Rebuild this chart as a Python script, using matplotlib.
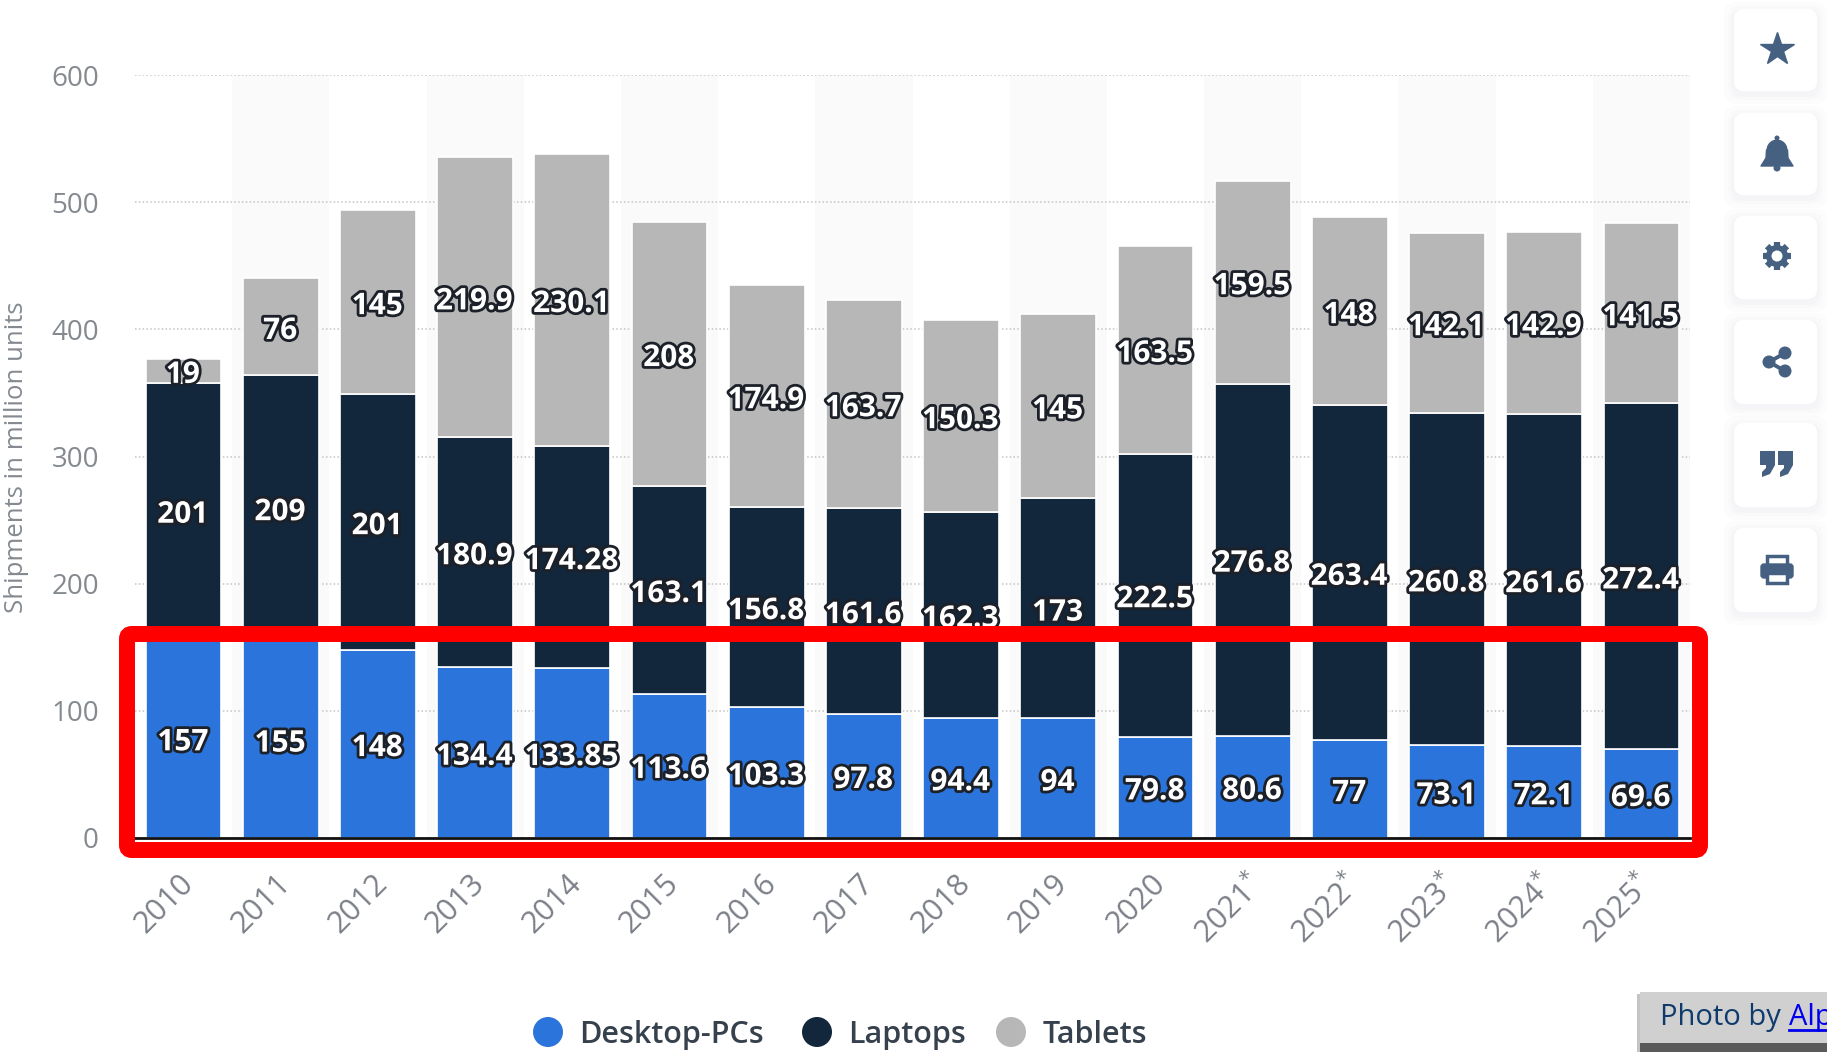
import numpy as np
import matplotlib
matplotlib.use('Agg')
import matplotlib.pyplot as plt
import matplotlib.patheffects as pe
from matplotlib.patches import FancyBboxPatch, Circle, Rectangle, Polygon
from matplotlib.transforms import ScaledTranslation

plt.rcParams['font.family'] = ['Open Sans', 'DejaVu Sans']

years = ['2010', '2011', '2012', '2013', '2014', '2015', '2016', '2017', '2018', '2019', '2020',
         '2021*', '2022*', '2023*', '2024*', '2025*']
desktops = [157, 155, 148, 134.4, 133.85, 113.6, 103.3, 97.8, 94.4, 94, 79.8, 80.6, 77, 73.1, 72.1, 69.6]
laptops = [201, 209, 201, 180.9, 174.28, 163.1, 156.8, 161.6, 162.3, 173, 222.5, 276.8, 263.4, 260.8, 261.6, 272.4]
tablets = [19, 76, 145, 219.9, 230.1, 208, 174.9, 163.7, 150.3, 145, 163.5, 159.5, 148, 142.1, 142.9, 141.5]
yticks = [0, 100, 200, 300, 400, 500, 600]

series = [('Desktop-PCs', desktops, '#2a74dc'), ('Laptops', laptops, '#12263c'), ('Tablets', tablets, '#b7b7b7')]
W, H = 1827, 1052

fig = plt.figure(figsize=(W / 100, H / 100), dpi=100)
ax = fig.add_axes([135 / W, 1 - 838 / H, (1690 - 135) / W, (838 - 75) / H])
ax.set_xlim(-0.5, 15.5)
ax.set_ylim(0, 600)
for side in ['top', 'left', 'right']:
    ax.spines[side].set_visible(False)
ax.spines['bottom'].set_color('#111111')
ax.spines['bottom'].set_linewidth(2)
ax.spines['bottom'].set_zorder(6)

# alternating background bands
for i in range(1, 16, 2):
    ax.axvspan(i - 0.5, i + 0.5, color='#fafafa', lw=0, zorder=0)
ax.set_axisbelow(True)
ax.yaxis.grid(True, linestyle=(0, (1, 1.5)), color='#c4c4c4', linewidth=1.1, zorder=1)

x = list(range(len(years)))
bottom = [0] * len(years)
for name, vals, color in series:
    ax.bar(x, vals, width=0.78, bottom=bottom, color=color, edgecolor='white', linewidth=1.2, zorder=3)
    for i, v in enumerate(vals):
        ax.annotate(f'{v:g}', (i, bottom[i] + v / 2), xytext=(-0.5, -3), textcoords='offset points',
                    ha='center', va='center', color='white', fontsize=21.5, fontweight='bold', zorder=5,
                    path_effects=[pe.withStroke(linewidth=4, foreground='#1c2028')])
    bottom = [b + v for b, v in zip(bottom, vals)]

ax.set_yticks(yticks)
ax.set_xticks(x)
ax.set_xticklabels([y.replace('*', '$^{*}$') for y in years], rotation=45, ha='right', rotation_mode='anchor',
                   fontsize=22, color='#7c8088')
ax.tick_params(axis='x', length=0, pad=22)
for lab in ax.get_xticklabels():
    lab.set_transform(lab.get_transform() + ScaledTranslation(-4 / 72, 0, fig.dpi_scale_trans))
ax.tick_params(axis='y', length=0, pad=26, labelsize=20, labelcolor='#858a90')
ax.set_ylabel('Shipments in million units', fontsize=18.5, color='#858a90')
ax.yaxis.set_label_coords((29 - 135) / (1690 - 135), (838 - 457) / (838 - 75))

# overlay in pixel coordinates: buttons, legend, caption, red frame
ov = fig.add_axes([0, 0, 1, 1], facecolor='none')
ov.set_xlim(0, W)
ov.set_ylim(H, 0)
ov.axis('off')

# red highlight frame
ov.add_patch(FancyBboxPatch((127, 634), 1573, 216, boxstyle='round,pad=0,rounding_size=5', fc='none',
                            ec='#ff0000', lw=11.5, zorder=10))

# legend
for (name, vals, color), cx, tx in zip(series, [548, 817, 1011], [579, 848, 1043]):
    ov.add_patch(Circle((cx, 1032), 15, fc=color, ec='none'))
    ov.text(tx, 1035, name, va='center', ha='left', fontsize=22, fontweight='semibold', color='#37414d')

# side buttons
icon = '#466082'
tops = [9, 113, 216, 320, 423, 528]
bots = [91, 195, 299, 404, 507, 612]
for t, b in zip(tops, bots):
    for grow, a in [(10, 0.010), (6, 0.014), (3, 0.02)]:
        ov.add_patch(FancyBboxPatch((1734 - grow, t - grow + 3), 83 + 2 * grow, b - t + 2 * grow,
                                    boxstyle='round,pad=0,rounding_size=12', fc='#44546a', ec='none', alpha=a))
    ov.add_patch(FancyBboxPatch((1734, t), 83, b - t, boxstyle='round,pad=0,rounding_size=10', fc='white', ec='none'))

cx = 1777
# star
ov.plot([cx], [49], marker='*', ms=25, color=icon, mec=icon)
# bell
ov.add_patch(Circle((cx, 150), 10.5, fc=icon, ec='none'))
ov.add_patch(Circle((cx, 138), 2.5, fc=icon, ec='none'))
ov.add_patch(Polygon([(cx - 16, 166), (cx - 11, 158), (cx - 10.5, 150), (cx + 10.5, 150), (cx + 11, 158),
                      (cx + 16, 166)], fc=icon, ec=icon, lw=1, joinstyle='round'))
ov.add_patch(Circle((cx, 168), 3.5, fc=icon, ec='none'))
# gear
for a in np.arange(0, np.pi, np.pi / 4):
    dx, dy = 14 * np.cos(a), 14 * np.sin(a)
    ov.plot([cx - dx, cx + dx], [256 - dy, 256 + dy], color=icon, lw=4.5, solid_capstyle='butt')
ov.add_patch(Circle((cx, 256), 11, fc=icon, ec='none', zorder=3))
ov.add_patch(Circle((cx, 256), 5.5, fc='white', ec='none', zorder=4))
# share
left, up, down = (cx - 8, 362), (cx + 8, 353), (cx + 8, 371)
for p in [up, down]:
    ov.plot([left[0], p[0]], [left[1], p[1]], color=icon, lw=2.8)
for p in [left, up, down]:
    ov.add_patch(Circle(p, 6.5, fc=icon, ec='none'))
# quote
for qx in [1760, 1778]:
    ov.add_patch(Rectangle((qx, 451), 15, 14, fc=icon, ec='none'))
    ov.add_patch(Polygon([(qx + 15, 451), (qx + 15, 465), (qx + 10, 474), (qx + 2, 477), (qx + 2, 472),
                          (qx + 6, 468), (qx + 6, 451)], fc=icon, ec='none'))
# printer
ov.add_patch(Rectangle((cx - 10, 556), 20, 14, fc='white', ec=icon, lw=2.5))
ov.add_patch(FancyBboxPatch((cx - 16, 564), 32, 14, boxstyle='round,pad=0,rounding_size=3', fc=icon, ec=icon, lw=1))
ov.add_patch(Rectangle((cx - 10, 573), 20, 10, fc='white', ec=icon, lw=2.5))

# photo credit box, cut off by the image edge
ov.add_patch(Rectangle((1637, 994), 4, 58, fc='#c4c4c4', ec='none'))
ov.add_patch(Rectangle((1640, 1043), 190, 10, fc='#5a5a5a', ec='none'))
ov.add_patch(Rectangle((1640, 992), 190, 51, fc='#d0d0d0', ec='none'))
ov.text(1660, 1017, 'Photo by', va='center', ha='left', fontsize=21, color='#0f3b6c')
ov.text(1789, 1017, 'Alp', va='center', ha='left', fontsize=21, color='#0000ee')
ov.plot([1789, 1827], [1030, 1030], color='#0000ee', lw=2)

fig.savefig('out.png', dpi=100, facecolor='white')
